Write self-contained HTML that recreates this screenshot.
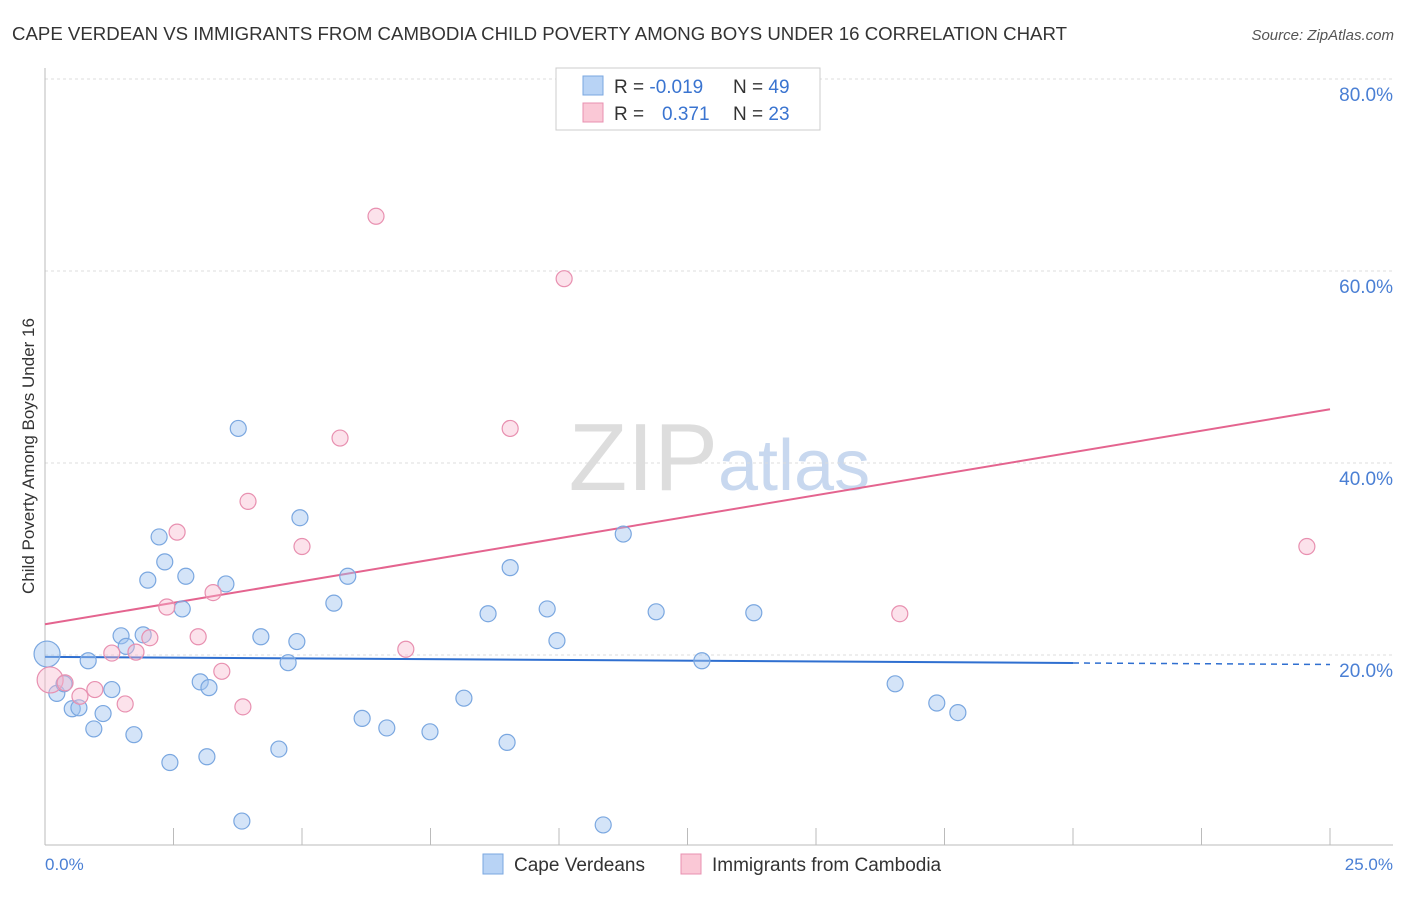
<!DOCTYPE html>
<html><head><meta charset="utf-8">
<style>
body{margin:0;background:#fff;font-family:"Liberation Sans",sans-serif;}
svg text{font-family:"Liberation Sans",sans-serif;}
</style></head>
<body>
<svg id="chart" width="1406" height="892">
<text x="12" y="40" font-size="18" fill="#333" textLength="1055" lengthAdjust="spacingAndGlyphs">CAPE VERDEAN VS IMMIGRANTS FROM CAMBODIA CHILD POVERTY AMONG BOYS UNDER 16 CORRELATION CHART</text>
<text x="1394" y="40" font-size="15" fill="#555" font-style="italic" text-anchor="end">Source: ZipAtlas.com</text>
<text x="718" y="490" font-size="96" fill="#ddd" text-anchor="end" font-family="Liberation Serif">ZIP</text>
<text x="718" y="490" font-size="72" fill="#c8d8ef">atlas</text>
<g id="grid"></g>
<g id="ticks"></g>
<g id="lines"></g>
<g id="pts"></g>
<text transform="translate(34,456) rotate(-90)" font-size="17" fill="#333" text-anchor="middle">Child Poverty Among Boys Under 16</text>
<text x="45" y="870" font-size="17" fill="#4a7fd4">0.0%</text>
<text x="1393" y="870" font-size="17" fill="#4a7fd4" text-anchor="end">25.0%</text>
<g>
<rect x="556" y="68" width="264" height="62" fill="#fff" stroke="#ccc"/>
<rect x="583" y="76" width="20" height="19" fill="#b8d3f5" stroke="#7aa7e0"/>
<rect x="583" y="103" width="20" height="19" fill="#fac8d6" stroke="#e890b0"/>
<text x="614" y="93" font-size="19" fill="#333">R = <tspan fill="#3a74d0">-0.019</tspan><tspan x="733">N = </tspan><tspan fill="#3a74d0">49</tspan></text>
<text x="614" y="120" font-size="19" fill="#333">R = <tspan x="662" fill="#3a74d0">0.371</tspan><tspan x="733">N = </tspan><tspan fill="#3a74d0">23</tspan></text>
</g>
<g>
<rect x="483" y="854" width="20" height="20" fill="#b8d3f5" stroke="#7aa7e0"/>
<text x="514" y="871" font-size="19" fill="#333">Cape Verdeans</text>
<rect x="681" y="854" width="20" height="20" fill="#fac8d6" stroke="#e890b0"/>
<text x="712" y="871" font-size="19" fill="#333">Immigrants from Cambodia</text>
</g>
</svg>
<script>
const yTicks=[20,40,60,80];
const yTickLabels=["20.0%","40.0%","60.0%","80.0%"];
const xTicks=[0,2.5,5,7.5,10,12.5,15,17.5,20,22.5,25];
const blueX=[0.04,0.23,0.37,0.53,0.66,0.84,0.95,1.13,1.30,1.48,1.58,1.73,1.91,2.0,2.22,2.33,2.43,2.67,2.74,3.02,3.15,3.19,3.52,3.76,3.83,4.20,4.55,4.73,4.90,4.96,5.62,5.89,6.17,6.65,7.49,8.15,8.62,8.99,9.05,9.77,9.96,10.86,11.25,11.89,12.78,13.79,16.54,17.35,17.76];
const blueY=[20.1,16.0,17.0,14.4,14.5,19.4,12.3,13.9,16.4,22.0,20.9,11.7,22.1,27.8,32.3,29.7,8.8,24.8,28.2,17.2,9.4,16.6,27.4,43.6,2.7,21.9,10.2,19.2,21.4,34.3,25.4,28.2,13.4,12.4,12.0,15.5,24.3,10.9,29.1,24.8,21.5,2.3,32.6,24.5,19.4,24.4,17.0,15.0,14.0];
const pinkX=[0.1,0.39,0.68,0.97,1.30,1.56,1.77,2.04,2.37,2.57,2.98,3.27,3.44,3.85,3.95,5.0,5.74,6.44,7.02,9.05,10.10,16.63,24.55];
const pinkY=[17.4,17.1,15.7,16.4,20.2,14.9,20.3,21.8,25.0,32.8,21.9,26.5,18.3,14.6,36.0,31.3,42.6,65.7,20.6,43.6,59.2,24.3,31.3];
const blueTrend=[19.8,19.17];
const pinkTrend=[23.2,45.6];
{
const X=v=>45+v*51.4, Y=v=>847-v*9.6;
const NS="http://www.w3.org/2000/svg";
function mk(tag,attrs,parent){const e=document.createElementNS(NS,tag);for(const k in attrs)e.setAttribute(k,attrs[k]);document.getElementById(parent).appendChild(e);return e;}
yTicks.forEach((t,i)=>{
 const g=mk('line',{x1:45,x2:1393,y1:Y(t),y2:Y(t),stroke:'#ddd','stroke-dasharray':'3,3'},'grid');
 
 
 const l=mk('text',{x:1393,y:Y(t)+22,'font-size':19,fill:'#4a7fd4','text-anchor':'end'},'grid');
 l.textContent=yTickLabels[i];
 
 
});
const topLine=mk('line',{x1:45,x2:1393,y1:79,y2:79,stroke:'#ddd','stroke-dasharray':'3,3'},'grid');


const ya=mk('line',{x1:45,x2:45,y1:68,y2:845,stroke:'#bbb'},'grid');


const xa=mk('line',{x1:45,x2:1393,y1:845,y2:845,stroke:'#bbb'},'grid');


xTicks.forEach(t=>{
 const k=mk('line',{x1:X(t),x2:X(t),y1:828,y2:845,stroke:'#bbb'},'ticks');
 
 
});
function dot(x,y,r,fill,stroke,name){
 const c=mk('circle',{cx:X(x),cy:Y(y),r:r,fill:fill,stroke:stroke,'stroke-width':1.2},'pts');
 
 
}
blueX.forEach((x,i)=>dot(x,blueY[i],i===0?13:8,'rgba(160,196,240,0.45)','#7aa7e0','cape-verdean-point'));
pinkX.forEach((x,i)=>dot(x,pinkY[i],i===0?13:8,'rgba(247,182,204,0.4)','#e890b0','cambodia-point'));
const bs=(blueTrend[1]-blueTrend[0])/20;
const b1=mk('line',{x1:X(0),y1:Y(blueTrend[0]),x2:X(20),y2:Y(blueTrend[1]),stroke:'#2f6fd0','stroke-width':2},'lines');


const b2=mk('line',{x1:X(20),y1:Y(blueTrend[1]),x2:X(25),y2:Y(blueTrend[1]+bs*5),stroke:'#2f6fd0','stroke-width':1.5,'stroke-dasharray':'6,5'},'lines');


const p1=mk('line',{x1:X(0),y1:Y(pinkTrend[0]),x2:X(25),y2:Y(pinkTrend[1]),stroke:'#e4648f','stroke-width':2},'lines');


}
</script>
</body></html>
